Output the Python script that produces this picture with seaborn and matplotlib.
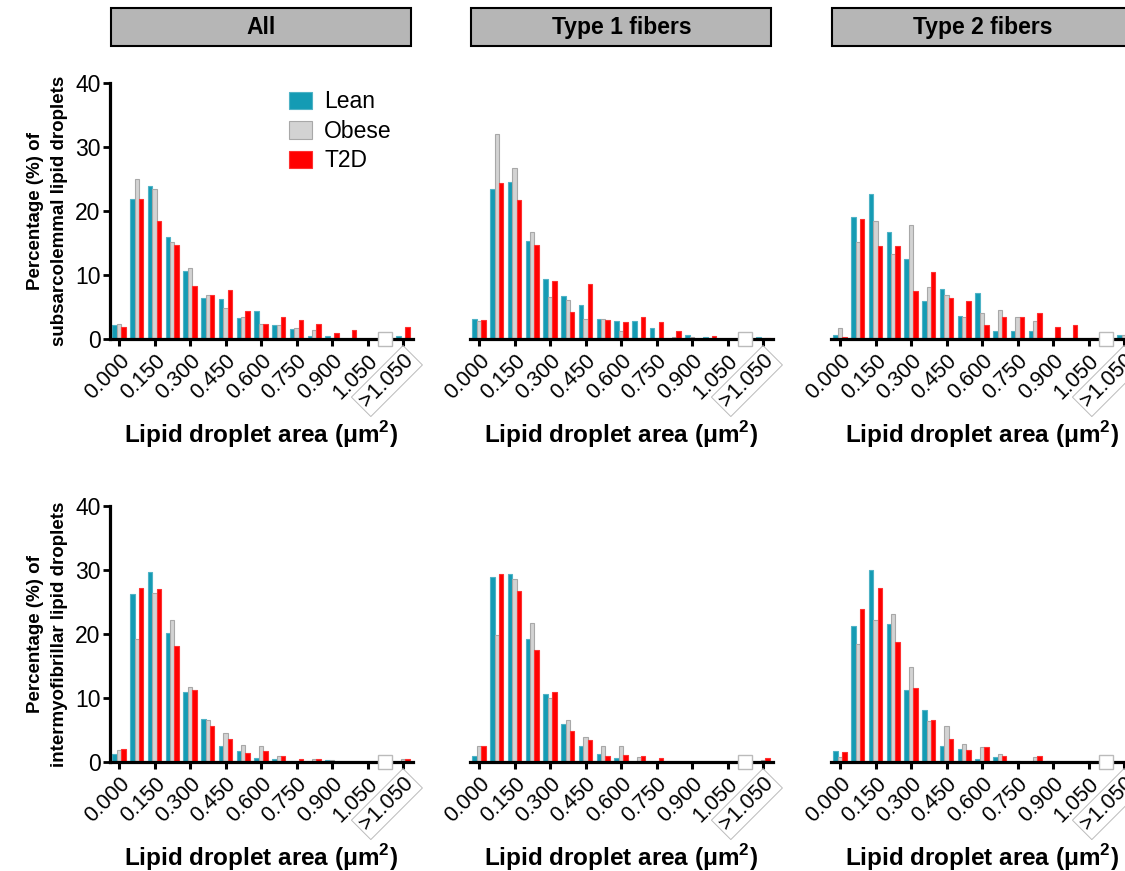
import numpy as np
import pandas as pd
import matplotlib
matplotlib.use("Agg")
import matplotlib.pyplot as plt
from matplotlib.patches import Rectangle, Patch
import seaborn as sns

# ---------------- data ----------------
bins = ["0.000", "0.075", "0.150", "0.225", "0.300", "0.375", "0.450", "0.525",
        "0.600", "0.675", "0.750", "0.825", "0.900", "0.975", "1.050", ">1.050"]
groups = ["Lean", "Obese", "T2D"]
tick_labels = ["0.000", "0.150", "0.300", "0.450", "0.600", "0.750", "0.900", "1.050", ">1.050"]
panel_titles = ["All", "Type 1 fibers", "Type 2 fibers"]
row_ylabels = ["Percentage (%) of\nsubsarcolemmal lipid droplets",
               "Percentage (%) of\nintermyofibrillar lipid droplets"]

ss_all_lean  = [2.2, 21.9, 23.9, 15.9, 10.6, 6.4, 6.2, 3.3, 4.4, 2.2, 1.6, 0.5, 0.5, 0, 0, 0.5]
ss_all_obese = [2.4, 25.0, 23.4, 15.2, 11.1, 6.9, 4.8, 3.4, 2.4, 2.2, 1.7, 1.4, 0.1, 0, 0, 0]
ss_all_t2d   = [1.8, 21.9, 18.5, 14.7, 8.3, 6.9, 7.7, 4.4, 2.4, 3.5, 3.0, 2.4, 1.0, 1.35, 0, 1.8]

ss_t1_lean  = [3.1, 23.5, 24.6, 15.4, 9.4, 6.7, 5.3, 3.1, 2.8, 2.8, 1.7, 0, 0.6, 0.25, 0, 0.25]
ss_t1_obese = [2.8, 32.1, 26.8, 16.7, 6.5, 6.1, 3.2, 3.2, 1.2, 0.1, 0, 0.25, 0.25, 0, 0, 0.2]
ss_t1_t2d   = [2.95, 24.4, 21.7, 14.7, 9.0, 4.2, 8.65, 2.95, 2.6, 3.5, 2.6, 1.2, 0, 0.5, 0, 0.2]

ss_t2_lean  = [0.55, 19.1, 22.7, 16.7, 12.5, 5.95, 7.8, 3.6, 7.15, 1.2, 1.2, 1.2, 0, 0, 0, 0.55]
ss_t2_obese = [1.65, 15.1, 18.4, 13.3, 17.9, 8.1, 6.9, 3.5, 4.0, 4.6, 3.5, 2.8, 0, 0, 0, 0.55]
ss_t2_t2d   = [0.3, 18.75, 14.6, 14.6, 7.5, 10.5, 6.4, 6.0, 2.2, 3.4, 3.4, 4.1, 1.8, 2.2, 0.15, 0]

imf_all_lean  = [1.2, 26.3, 29.7, 20.2, 10.9, 6.7, 2.5, 1.65, 0.67, 0.5, 0.1, 0, 0.35, 0, 0, 0]
imf_all_obese = [1.85, 19.3, 26.5, 22.3, 11.7, 6.6, 4.6, 2.7, 2.5, 1.0, 0.1, 0.5, 0.3, 0, 0, 0.55]
imf_all_t2d   = [2.1, 27.2, 27.0, 18.1, 11.3, 5.65, 3.6, 1.4, 1.65, 0.95, 0.55, 0.5, 0, 0, 0, 0.55]

imf_t1_lean  = [0.95, 28.9, 29.5, 19.3, 10.7, 5.95, 2.45, 1.3, 0.7, 0, 0, 0, 0, 0, 0, 0]
imf_t1_obese = [2.5, 19.9, 28.7, 21.8, 9.95, 6.6, 3.9, 2.5, 2.5, 0.8, 0, 0, 0, 0, 0, 0.3]
imf_t1_t2d   = [2.45, 29.5, 26.7, 17.5, 10.9, 4.9, 3.5, 1.0, 1.1, 1.0, 0.7, 0, 0, 0, 0, 0.65]

imf_t2_lean  = [1.65, 21.3, 30.05, 21.65, 11.2, 8.1, 2.5, 2.1, 0.45, 0.8, 0, 0, 0.2, 0, 0, 0]
imf_t2_obese = [0.8, 18.4, 22.3, 23.2, 14.8, 6.4, 5.65, 2.85, 2.4, 1.25, 0.2, 0.8, 0.2, 0, 0.2, 0.2]
imf_t2_t2d   = [1.5, 23.9, 27.25, 18.8, 11.6, 6.6, 3.6, 1.9, 2.4, 0.9, 0, 0.9, 0, 0, 0, 0]

panels = [
    [(ss_all_lean, ss_all_obese, ss_all_t2d),
     (ss_t1_lean, ss_t1_obese, ss_t1_t2d),
     (ss_t2_lean, ss_t2_obese, ss_t2_t2d)],
    [(imf_all_lean, imf_all_obese, imf_all_t2d),
     (imf_t1_lean, imf_t1_obese, imf_t1_t2d),
     (imf_t2_lean, imf_t2_obese, imf_t2_t2d)],
]

colors = {"Lean": "#149BB4", "Obese": "#D3D3D3", "T2D": "#FF0000"}
edges = {"Lean": "#4FB3C6", "Obese": "#A8A8A8", "T2D": "#FF3030"}

# order with an empty slot for the axis break
order = bins[:-1] + ["gap"] + [bins[-1]]

sns.set_style("ticks")
plt.rcParams["font.family"] = ["Liberation Sans", "DejaVu Sans"]
plt.rcParams["mathtext.fontset"] = "custom"
plt.rcParams["mathtext.bf"] = "Liberation Sans:bold"
plt.rcParams["mathtext.rm"] = "Liberation Sans"
for k in ["text.color", "axes.labelcolor", "xtick.color", "ytick.color", "axes.edgecolor"]:
    plt.rcParams[k] = "black"

fig = plt.figure(figsize=(11.25, 8.71), dpi=100)

lefts = [0.0979, 0.4179, 0.7388]
bottoms = [0.6108, 0.1251]
W, H = 0.269, 0.2935

for r in range(2):
    for c in range(3):
        ax = fig.add_axes([lefts[c], bottoms[r], W, H])
        lean, obese, t2d = panels[r][c]
        df = pd.DataFrame({
            "bin": bins * 3,
            "group": ["Lean"] * 16 + ["Obese"] * 16 + ["T2D"] * 16,
            "pct": list(lean) + list(obese) + list(t2d),
        })
        sns.barplot(data=df, x="bin", y="pct", hue="group", order=order,
                    hue_order=groups, palette=colors, width=0.75,
                    errorbar=None, legend=False, ax=ax, saturation=1)
        for cont, g in zip(ax.containers, groups):
            for p in cont:
                p.set_edgecolor(edges[g])
                p.set_linewidth(0.8)

        ax.set_xlim(-0.5, 16.55)
        ax.set_ylim(0, 40)
        ax.set_xticks(list(range(0, 17, 2)))
        ax.set_xticklabels(tick_labels, rotation=45, ha="right",
                           rotation_mode="anchor", fontsize=15.5)
        lab = ax.get_xticklabels()[-1]
        lab.set_bbox(dict(boxstyle="square,pad=0.15", fc="none",
                          ec="#BBBBBB", lw=0.7))
        ax.tick_params(axis="x", length=5, width=2.2, color="black", pad=3)
        ax.spines["bottom"].set_linewidth(2.3)
        ax.spines["top"].set_visible(False)
        ax.spines["right"].set_visible(False)
        ax.set_xlabel(r"Lipid droplet area (μm$^{\mathbf{2}}$)",
                      fontsize=17.5, fontweight="bold", labelpad=5)
        if c == 0:
            ax.spines["left"].set_linewidth(2.3)
            ax.set_yticks([0, 10, 20, 30, 40])
            ax.tick_params(axis="y", length=5, width=2.0, labelsize=16.5, pad=2)
            ax.set_ylabel(row_ylabels[r], fontsize=13.5, fontweight="bold",
                          labelpad=5, linespacing=1.55)
        else:
            ax.spines["left"].set_visible(False)
            ax.set_yticks([])
            ax.set_ylabel("")

        # axis break marker
        ax.plot([15], [0], marker="s", ms=9.5, mfc="white", mec="#BBBBBB",
                mew=1.0, clip_on=False, zorder=10, ls="none")

        if r == 0:
            ax.add_patch(Rectangle((0.003, 1.148), 0.99, 0.145,
                                   transform=ax.transAxes, clip_on=False,
                                   fc="#B6B6B6", ec="black", lw=1.5))
            ax.text(0.5, 1.22, panel_titles[c], transform=ax.transAxes,
                    ha="center", va="center", fontsize=16.5, fontweight="bold")
        if r == 0 and c == 0:
            handles = [Patch(fc=colors[g], ec=edges[g], lw=0.8) for g in groups]
            ax.legend(handles, groups, loc="upper left",
                      bbox_to_anchor=(0.56, 1.008), frameon=False, fontsize=16.5,
                      handlelength=1.0, handleheight=0.8, handletextpad=0.55,
                      labelspacing=0.28, borderaxespad=0)

fig.savefig("out.png", dpi=100)
